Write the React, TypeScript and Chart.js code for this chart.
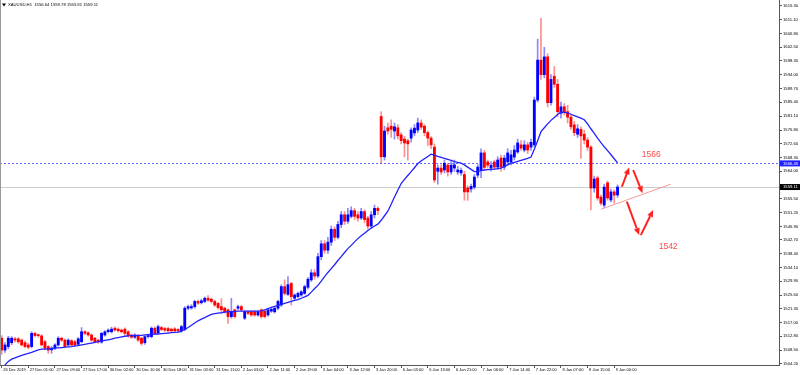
import React, { useEffect, useRef } from 'react';
import { Chart, registerables } from 'chart.js';

Chart.register(...registerables);

const TITLE_TEXT = 'XAUUSD,H1  1556.64 1559.78 1555.91 1559.11';
const SLOT_COUNT = 234;
const TICK_EVERY = 8;
const X_TICK_LABELS = [
  '26 Dec 2019', '27 Dec 01:00', '27 Dec 09:00', '27 Dec 17:00', '30 Dec 02:00', '30 Dec 10:00',
  '30 Dec 18:00', '31 Dec 03:00', '31 Dec 11:00', '2 Jan 03:00', '2 Jan 11:00', '2 Jan 19:00',
  '3 Jan 04:00', '3 Jan 12:00', '3 Jan 20:00', '6 Jan 05:00', '6 Jan 13:00', '6 Jan 21:00',
  '7 Jan 06:00', '7 Jan 14:00', '7 Jan 22:00', '8 Jan 07:00', '8 Jan 15:00', '9 Jan 00:00',
];
const Y_TICKS = [
  1615.3, 1611.1, 1606.8, 1602.5, 1598.3, 1594.0, 1589.7, 1585.4, 1581.1, 1576.8, 1572.6, 1568.3, 1564.0,
  1555.5, 1551.2, 1546.9, 1542.7, 1538.4, 1534.1, 1529.9, 1525.6, 1521.3, 1517.0, 1512.8, 1508.5, 1504.2,
];
const Y_MIN = 1503.88;
const Y_MAX = 1617.16;

const OPEN = [
  1512.2, 1508.5, 1509.6, 1510.8, 1512.0, 1512.0, 1511.6, 1510.8, 1510.1, 1509.6,
  1513.7, 1513.2, 1512.9, 1511.1, 1509.6, 1508.6, 1509.1, 1510.1, 1512.2, 1511.6,
  1510.1, 1511.4, 1511.1, 1510.3, 1511.1, 1514.2, 1513.9, 1513.2, 1512.2, 1511.6,
  1511.0, 1513.2, 1514.2, 1514.2, 1515.3, 1515.0, 1514.7, 1515.0, 1514.2, 1513.2,
  1512.5, 1512.9, 1512.2, 1510.8, 1512.7, 1512.7, 1515.3, 1513.9, 1515.5, 1515.2,
  1515.2, 1515.0, 1515.1, 1514.9, 1514.5, 1514.9, 1521.5, 1521.6, 1522.0, 1523.6,
  1523.2, 1523.6, 1524.6, 1524.3, 1523.6, 1523.0, 1522.0, 1521.5, 1521.0, 1518.9,
  1521.0, 1521.5, 1522.0, 1518.4, 1520.4, 1520.4, 1520.4, 1519.4, 1521.0, 1520.6,
  1519.4, 1520.6, 1520.4, 1521.5, 1522.5, 1528.2, 1525.8, 1529.2, 1524.6, 1525.1,
  1525.6, 1526.1, 1528.0, 1530.3, 1532.5, 1531.5, 1537.5, 1541.5, 1539.5, 1542.0,
  1546.0, 1543.5, 1547.5, 1550.5, 1548.5, 1550.0, 1551.8, 1550.5, 1549.5, 1551.5,
  1549.5, 1547.0, 1550.5, 1552.5, 1581.0, 1568.5, 1577.5, 1578.0, 1576.5, 1577.5,
  1575.3, 1574.0, 1573.5, 1574.3, 1575.9, 1576.8, 1579.0, 1578.0, 1576.0, 1574.3,
  1571.5, 1564.0, 1565.0, 1564.4, 1565.9, 1563.8, 1565.0, 1563.8, 1563.5, 1563.0,
  1558.8, 1558.5, 1559.1, 1562.8, 1564.4, 1569.7, 1566.9, 1565.0, 1566.9, 1565.3,
  1568.1, 1565.3, 1566.9, 1566.9, 1568.4, 1570.0, 1572.2, 1570.6, 1572.2, 1571.5,
  1572.2, 1586.1, 1598.5, 1594.0, 1599.5, 1585.3, 1593.5, 1591.0, 1582.0, 1584.0,
  1582.5, 1580.8, 1578.4, 1575.5, 1577.0, 1575.5, 1573.7, 1571.5, 1558.8, 1561.9,
  1556.0, 1553.5, 1560.4, 1555.1, 1557.6, 1556.64,
];
const HIGH = [
  1513.0, 1510.8, 1512.8, 1512.7, 1512.5, 1512.4, 1512.0, 1511.4, 1510.6, 1514.2,
  1514.0, 1513.5, 1513.3, 1511.5, 1509.9, 1509.6, 1510.5, 1512.7, 1512.5, 1511.9,
  1512.0, 1511.8, 1511.5, 1512.4, 1515.5, 1514.6, 1514.2, 1513.5, 1512.5, 1511.9,
  1514.0, 1514.6, 1515.1, 1515.6, 1515.7, 1515.4, 1515.1, 1515.4, 1514.6, 1513.5,
  1513.6, 1513.3, 1512.5, 1513.0, 1513.5, 1515.7, 1515.7, 1516.3, 1515.9, 1515.6,
  1515.6, 1515.3, 1515.5, 1515.2, 1516.2, 1522.0, 1522.5, 1522.6, 1524.0, 1524.0,
  1524.3, 1525.0, 1525.4, 1524.7, 1524.0, 1523.3, 1524.5, 1521.8, 1521.3, 1524.6,
  1521.3, 1522.5, 1522.4, 1520.8, 1520.8, 1520.7, 1520.7, 1520.8, 1521.3, 1521.0,
  1521.4, 1521.6, 1522.0, 1524.0, 1528.8, 1530.3, 1531.3, 1529.6, 1526.0, 1526.5,
  1527.0, 1528.7, 1531.0, 1533.5, 1533.5, 1538.5, 1542.5, 1542.5, 1543.5, 1547.0,
  1546.8, 1548.5, 1551.5, 1551.5, 1552.5, 1553.0, 1552.5, 1551.5, 1552.5, 1552.0,
  1550.0, 1551.5, 1553.5, 1553.0, 1582.5, 1578.0, 1579.0, 1580.0, 1579.0, 1578.5,
  1576.0, 1574.8, 1574.0, 1577.5, 1578.5, 1580.5, 1580.0, 1578.5, 1576.5, 1574.8,
  1572.5, 1566.0, 1566.0, 1567.5, 1566.5, 1567.0, 1567.5, 1565.5, 1565.0, 1564.0,
  1559.5, 1560.0, 1563.0, 1566.0, 1571.0, 1570.5, 1567.5, 1567.0, 1567.5, 1568.5,
  1569.0, 1569.0, 1571.0, 1570.5, 1572.0, 1574.0, 1573.5, 1573.5, 1573.0, 1574.0,
  1587.0, 1605.0, 1611.5, 1602.5, 1600.5, 1594.0, 1596.5, 1592.5, 1585.5, 1585.0,
  1584.5, 1581.5, 1579.5, 1578.5, 1577.8, 1576.8, 1574.5, 1572.0, 1562.5, 1562.5,
  1556.6, 1560.0, 1561.0, 1558.5, 1558.2, 1559.78,
];
const LOW = [
  1507.2, 1507.8, 1508.9, 1510.2, 1511.0, 1510.6, 1509.8, 1509.2, 1508.9, 1509.2,
  1512.6, 1512.5, 1509.8, 1508.6, 1507.5, 1507.5, 1508.6, 1509.7, 1511.1, 1509.2,
  1509.7, 1509.8, 1509.6, 1509.9, 1510.8, 1513.2, 1512.8, 1511.2, 1510.7, 1510.6,
  1510.6, 1512.8, 1513.8, 1513.8, 1514.4, 1514.1, 1513.8, 1513.2, 1512.5, 1512.1,
  1512.1, 1511.2, 1510.0, 1510.3, 1512.3, 1512.3, 1513.3, 1513.5, 1514.5, 1514.3,
  1514.1, 1514.1, 1514.1, 1514.0, 1514.0, 1514.5, 1521.0, 1521.2, 1521.5, 1522.7,
  1522.8, 1523.2, 1523.6, 1523.1, 1522.0, 1521.2, 1520.5, 1520.0, 1516.8, 1518.4,
  1518.4, 1521.0, 1520.6, 1518.0, 1519.5, 1519.0, 1519.0, 1519.0, 1518.4, 1518.5,
  1519.0, 1520.2, 1520.0, 1521.0, 1522.0, 1525.6, 1525.5, 1522.5, 1524.2, 1524.7,
  1525.2, 1525.8, 1527.5, 1529.8, 1530.5, 1531.0, 1536.5, 1538.5, 1538.5, 1541.0,
  1542.5, 1543.0, 1546.5, 1547.5, 1547.8, 1549.5, 1549.0, 1548.5, 1549.0, 1548.0,
  1546.0, 1546.5, 1549.5, 1550.5, 1566.5, 1567.5, 1575.5, 1574.5, 1574.0, 1574.0,
  1572.5, 1568.5, 1567.5, 1573.0, 1575.0, 1576.0, 1577.0, 1575.0, 1572.0, 1571.0,
  1560.5, 1560.0, 1563.0, 1563.5, 1562.5, 1563.0, 1564.0, 1563.0, 1562.8, 1555.0,
  1555.0, 1557.5, 1558.5, 1562.0, 1562.0, 1564.5, 1565.0, 1564.0, 1564.5, 1564.5,
  1564.0, 1564.5, 1566.0, 1566.0, 1567.5, 1569.5, 1570.5, 1570.0, 1569.5, 1570.5,
  1571.5, 1585.5, 1592.5, 1593.0, 1584.0, 1584.5, 1590.0, 1581.0, 1580.5, 1581.5,
  1579.0, 1577.0, 1575.0, 1574.5, 1568.0, 1572.5, 1570.5, 1552.0, 1557.5, 1555.0,
  1553.5, 1552.8, 1555.0, 1554.5, 1554.1, 1555.91,
];
const CLOSE = [
  1508.5, 1510.1, 1512.2, 1512.2, 1511.6, 1511.1, 1510.1, 1509.6, 1509.4, 1513.7,
  1513.0, 1513.0, 1510.1, 1509.1, 1508.5, 1509.1, 1510.1, 1512.2, 1511.6, 1509.6,
  1511.6, 1510.1, 1510.1, 1512.0, 1514.2, 1513.7, 1513.2, 1511.6, 1511.1, 1511.0,
  1513.7, 1514.2, 1514.7, 1515.0, 1514.7, 1514.5, 1514.2, 1513.7, 1512.9, 1512.5,
  1513.2, 1511.6, 1510.6, 1512.7, 1513.0, 1515.3, 1513.7, 1515.8, 1514.9, 1514.7,
  1514.5, 1514.5, 1514.5, 1514.5, 1515.8, 1521.5, 1522.0, 1522.0, 1523.6, 1523.1,
  1523.8, 1524.6, 1524.0, 1523.6, 1522.5, 1521.7, 1521.0, 1520.4, 1518.9, 1520.4,
  1518.9, 1522.0, 1521.0, 1520.4, 1519.9, 1519.4, 1519.4, 1520.4, 1518.9, 1518.9,
  1521.0, 1521.2, 1521.5, 1523.6, 1528.2, 1526.1, 1528.8, 1525.1, 1525.6, 1526.1,
  1526.6, 1528.2, 1530.5, 1532.5, 1531.5, 1537.5, 1541.5, 1539.5, 1542.0, 1546.0,
  1543.5, 1547.5, 1550.5, 1548.5, 1550.5, 1551.8, 1550.0, 1549.5, 1551.5, 1549.0,
  1547.0, 1550.5, 1552.5, 1551.8, 1568.5, 1576.5, 1576.5, 1577.0, 1577.8, 1575.0,
  1573.5, 1572.8, 1572.5, 1576.8, 1577.4, 1579.0, 1577.7, 1576.0, 1574.3, 1572.2,
  1561.3, 1565.0, 1563.8, 1566.5, 1563.8, 1565.9, 1566.0, 1564.4, 1564.3, 1557.6,
  1557.6, 1559.3, 1562.2, 1565.3, 1569.7, 1565.2, 1565.9, 1565.9, 1565.3, 1567.5,
  1565.3, 1568.1, 1569.7, 1569.1, 1570.6, 1572.8, 1571.2, 1572.2, 1570.6, 1573.0,
  1586.1, 1598.5, 1594.0, 1599.5, 1585.3, 1592.5, 1591.0, 1582.5, 1584.0, 1582.5,
  1580.8, 1577.8, 1576.0, 1577.2, 1575.0, 1573.7, 1571.5, 1558.8, 1561.6, 1555.7,
  1554.1, 1559.1, 1555.7, 1557.6, 1556.6, 1559.11,
];
const MA = [
  1503.0, 1503.9, 1505.0, 1505.7, 1506.1, 1506.5, 1506.9, 1507.2, 1507.5, 1507.8,
  1508.2, 1508.6, 1508.8, 1508.8, 1508.9, 1509.0, 1509.1, 1509.2, 1509.3, 1509.4,
  1509.5, 1509.6, 1509.8, 1509.9, 1510.1, 1510.3, 1510.5, 1510.7, 1510.9, 1511.1,
  1511.3, 1511.5, 1511.7, 1511.9, 1512.2, 1512.4, 1512.6, 1512.8, 1512.9, 1513.0,
  1513.0, 1513.1, 1513.1, 1513.2, 1513.3, 1513.4, 1513.5, 1513.5, 1513.6, 1513.7,
  1513.8, 1513.9, 1514.0, 1514.1, 1514.4, 1514.9, 1515.5, 1516.2, 1516.9, 1517.6,
  1518.1, 1518.6, 1519.1, 1519.6, 1519.8, 1520.0, 1520.1, 1520.3, 1520.4, 1520.4,
  1520.5, 1520.6, 1520.6, 1520.6, 1520.6, 1520.6, 1520.6, 1520.6, 1520.7, 1521.0,
  1521.4, 1521.8, 1522.1, 1522.4, 1522.7, 1523.0, 1523.3, 1523.6, 1523.9, 1524.2,
  1524.6, 1525.0, 1525.5, 1526.5, 1527.6, 1528.6, 1529.9, 1531.3, 1532.6, 1533.8,
  1535.0, 1536.3, 1537.5, 1538.8, 1540.0, 1541.0, 1542.1, 1543.1, 1544.0, 1544.8,
  1545.6, 1546.3, 1547.0, 1547.6, 1548.8, 1550.2, 1551.6, 1553.8, 1556.0, 1558.1,
  1560.2, 1561.5, 1562.7, 1563.9, 1565.1, 1566.4, 1567.2, 1567.9, 1568.6, 1569.3,
  1569.0, 1568.6, 1568.3, 1568.0, 1567.7, 1567.4, 1567.0, 1566.8, 1566.5, 1566.0,
  1565.3, 1564.6, 1563.9, 1564.0, 1564.2, 1564.4, 1564.5, 1564.6, 1564.7, 1564.8,
  1565.0, 1565.5, 1566.0, 1566.5, 1566.8, 1567.1, 1567.4, 1567.7, 1568.0, 1568.4,
  1570.8, 1573.5, 1576.3, 1577.5, 1578.7, 1579.8, 1580.7, 1581.6, 1582.4, 1582.3,
  1582.1, 1581.7, 1581.3, 1580.9, 1580.5, 1580.0, 1578.7, 1577.2, 1575.8, 1574.3,
  1572.9, 1571.6, 1570.4, 1569.2, 1567.9, 1566.6,
];

const HLINE_PRICE = 1566.45;
const BID_PRICE = 1559.11;
// drawn objects, in [bar index, price]
const TREND_LINE = [[180.0, 1552.2], [201.0, 1560.0]];
const ARROWS = [
  [[186.3, 1559.2], [188.5, 1565.2]],
  [[189.7, 1564.4], [192.5, 1557.2]],
  [[187.8, 1554.6], [191.5, 1544.2]],
  [[192.0, 1544.2], [195.7, 1552.0]],
];
const NOTE_TEXTS = ['1566', '1542'];
const NOTE_POS = [[195.1, 1569.2], [200.2, 1540.5]];

const SLOTS = Array.from({ length: SLOT_COUNT }, (_, i) => String(i));

const BULL = '#0000ff';
const BEAR = '#ff0000';
const BULL_WICK = 'rgba(40,40,255,0.55)';
const BEAR_WICK = 'rgba(255,30,30,0.5)';
const FONT = '"Liberation Sans", Arial, sans-serif';

const overlay = {
  id: 'overlay',
  beforeDatasetsDraw(chart: any) {
    const { ctx, chartArea: a, scales } = chart;
    const y = scales.y;
    ctx.save();
    ctx.beginPath();
    ctx.rect(a.left, a.top, a.right - a.left, a.bottom - a.top);
    ctx.clip();
    const yb = Math.round(y.getPixelForValue(BID_PRICE)) + 0.5;
    ctx.strokeStyle = '#cccccc';
    ctx.lineWidth = 1;
    ctx.beginPath();
    ctx.moveTo(a.left, yb);
    ctx.lineTo(a.right, yb);
    ctx.stroke();
    const yh = Math.round(y.getPixelForValue(HLINE_PRICE)) + 0.5;
    ctx.strokeStyle = '#6666ff';
    ctx.setLineDash([2, 2]);
    ctx.beginPath();
    ctx.moveTo(a.left, yh);
    ctx.lineTo(a.right, yh);
    ctx.stroke();
    ctx.restore();
  },
  afterDatasetsDraw(chart: any) {
    const { ctx, chartArea: a, scales } = chart;
    const x = scales.x;
    const y = scales.y;
    const px = (p: number[]) => [x.getPixelForValue(p[0]), y.getPixelForValue(p[1])];
    ctx.save();
    const t0 = px(TREND_LINE[0]);
    const t1 = px(TREND_LINE[1]);
    ctx.strokeStyle = '#f59a9a';
    ctx.lineWidth = 1;
    ctx.beginPath();
    ctx.moveTo(t0[0], t0[1]);
    ctx.lineTo(t1[0], t1[1]);
    ctx.stroke();
    ctx.strokeStyle = '#ff2020';
    ctx.fillStyle = '#ff2020';
    ARROWS.forEach((ar) => {
      const s = px(ar[0]);
      const e = px(ar[1]);
      const ang = Math.atan2(e[1] - s[1], e[0] - s[0]);
      const len = 7;
      const hw = 3;
      const bx = e[0] - len * Math.cos(ang);
      const by = e[1] - len * Math.sin(ang);
      ctx.lineWidth = 2;
      ctx.beginPath();
      ctx.moveTo(s[0], s[1]);
      ctx.lineTo(bx, by);
      ctx.stroke();
      ctx.beginPath();
      ctx.moveTo(e[0], e[1]);
      ctx.lineTo(bx + hw * Math.sin(ang), by - hw * Math.cos(ang));
      ctx.lineTo(bx - hw * Math.sin(ang), by + hw * Math.cos(ang));
      ctx.closePath();
      ctx.fill();
    });
    ctx.fillStyle = '#ff4a4a';
    ctx.font = '8.5px ' + FONT;
    ctx.textAlign = 'center';
    ctx.textBaseline = 'middle';
    NOTE_TEXTS.forEach((txt, i) => {
      const p = px(NOTE_POS[i]);
      ctx.fillText(txt, p[0], p[1]);
    });
    ctx.fillStyle = '#000';
    ctx.beginPath();
    ctx.moveTo(a.left + 2, a.top + 3.5);
    ctx.lineTo(a.left + 6, a.top + 3.5);
    ctx.lineTo(a.left + 4, a.top + 6.5);
    ctx.closePath();
    ctx.fill();
    ctx.font = '4.2px ' + FONT;
    ctx.textAlign = 'left';
    ctx.textBaseline = 'middle';
    ctx.fillText(TITLE_TEXT, a.left + 8, a.top + 5);
    ctx.restore();
  },
  afterDraw(chart: any) {
    const { ctx, chartArea: a, scales } = chart;
    const y = scales.y;
    ctx.save();
    const boxes = [
      { v: HLINE_PRICE, bg: '#1e1eff' },
      { v: BID_PRICE, bg: '#000000' },
    ];
    boxes.forEach((b) => {
      const yp = y.getPixelForValue(b.v);
      ctx.fillStyle = b.bg;
      ctx.fillRect(a.right + 1, yp - 3, 20, 6);
      ctx.fillStyle = '#fff';
      ctx.font = '4.2px ' + FONT;
      ctx.textAlign = 'left';
      ctx.textBaseline = 'middle';
      ctx.fillText(b.v.toFixed(2), a.right + 4, yp);
    });
    ctx.strokeStyle = '#9a9a9a';
    ctx.lineWidth = 1;
    ctx.beginPath();
    ctx.moveTo(0.5, 0);
    ctx.lineTo(0.5, a.bottom);
    ctx.stroke();
    ctx.restore();
  },
};

export default function App() {
  const ref = useRef<HTMLCanvasElement>(null);
  useEffect(() => {
    document.body.style.margin = '0';
    const canvas = ref.current as HTMLCanvasElement;
    const up = (i: number) => CLOSE[i] >= OPEN[i];
    const chart = new Chart(canvas, {
      type: 'bar',
      data: {
        labels: SLOTS,
        datasets: [
          {
            type: 'line',
            data: MA,
            borderColor: '#2222ff',
            borderWidth: 1.3,
            pointRadius: 0,
            tension: 0,
            order: 0,
          } as any,
          {
            type: 'bar',
            data: OPEN.map((o, i) => [o, CLOSE[i]]),
            grouped: false,
            barThickness: 2.2,
            minBarLength: 1,
            backgroundColor: (c: any) => (up(c.dataIndex) ? BULL : BEAR),
            borderWidth: 0,
            order: 1,
          } as any,
          {
            type: 'bar',
            data: LOW.map((l, i) => [l, HIGH[i]]),
            grouped: false,
            barThickness: 1,
            backgroundColor: (c: any) => (up(c.dataIndex) ? BULL_WICK : BEAR_WICK),
            borderWidth: 0,
            order: 2,
          } as any,
        ],
      },
      options: {
        animation: false,
        responsive: false,
        devicePixelRatio: 1,
        events: [],
        layout: { padding: 0 },
        plugins: { legend: { display: false }, tooltip: { enabled: false }, title: { display: false } },
        scales: {
          x: {
            type: 'category',
            offset: true,
            grid: { display: true, drawOnChartArea: false, drawTicks: true, tickLength: 3, color: '#555', offset: false },
            border: { display: true, color: '#555' },
            ticks: {
              autoSkip: false,
              maxRotation: 0,
              minRotation: 0,
              align: 'start',
              labelOffset: 1.5,
              padding: -1,
              color: '#000',
              font: { size: 4.0, family: FONT },
              callback: (v: any) => X_TICK_LABELS[Number(v) / TICK_EVERY] ?? '',
            },
            afterBuildTicks: (s: any) => {
              s.ticks = s.ticks.filter((t: any) => t.value % TICK_EVERY === 0 && t.value / TICK_EVERY < X_TICK_LABELS.length);
            },
            afterFit: (s: any) => {
              s.height = 10;
              s.paddingLeft = 0;
              s.paddingRight = 0;
            },
          } as any,
          y: {
            type: 'linear',
            position: 'right',
            min: Y_MIN,
            max: Y_MAX,
            bounds: 'data',
            grid: { display: true, drawOnChartArea: false, drawTicks: true, tickLength: 3, color: '#555' },
            border: { display: true, color: '#555' },
            ticks: {
              autoSkip: false,
              padding: 1,
              color: '#000',
              font: { size: 4.2, family: FONT },
              callback: (v: any) => Number(v).toFixed(2),
            },
            afterBuildTicks: (s: any) => {
              s.ticks = Y_TICKS.map((v) => ({ value: v }));
            },
            afterFit: (s: any) => {
              s.width = 21;
              s.paddingTop = 0;
              s.paddingBottom = 0;
            },
          } as any,
        },
      },
      plugins: [overlay],
    });
    return () => chart.destroy();
  }, []);
  return (
    <div style={{ width: 800, height: 375 }}>
      <canvas ref={ref} width={800} height={375} style={{ display: 'block' }} />
    </div>
  );
}
